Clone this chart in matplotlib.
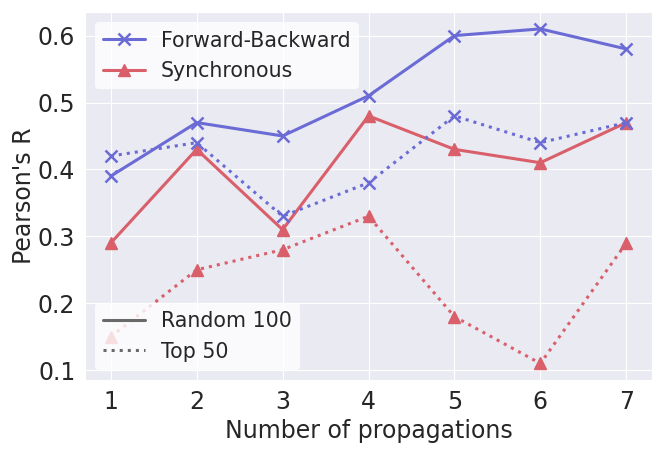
import matplotlib
matplotlib.use("Agg")
import matplotlib.pyplot as plt
import seaborn as sns
from matplotlib.lines import Line2D

props = [1, 2, 3, 4, 5, 6, 7]
fb_random = [0.39, 0.47, 0.45, 0.51, 0.60, 0.61, 0.58]
fb_top = [0.42, 0.44, 0.33, 0.38, 0.48, 0.44, 0.47]
sync_random = [0.29, 0.43, 0.31, 0.48, 0.43, 0.41, 0.47]
sync_top = [0.15, 0.25, 0.28, 0.33, 0.18, 0.11, 0.29]

sns.set_style("darkgrid")
plt.rcParams['font.family'] = ['DejaVu Sans']

blue = '#6b6bd6'
red = '#d95f6a'

fig, ax = plt.subplots(figsize=(6.64, 4.51), dpi=100)
lw = 2.2
ax.plot(props, fb_random, color=blue, marker='x', markersize=9, markeredgewidth=1.8, lw=lw, label='Forward-Backward')
ax.plot(props, sync_random, color=red, marker='^', markersize=9, lw=lw, label='Synchronous')
ax.plot(props, fb_top, color=blue, marker='x', markersize=9, markeredgewidth=1.8, lw=lw, ls=':')
ax.plot(props, sync_top, color=red, marker='^', markersize=9, lw=lw, ls=':')

ax.set_yticks([0.1, 0.2, 0.3, 0.4, 0.5, 0.6])
ax.set_xticks(props)
ax.tick_params(labelsize=17)
ax.set_xlabel('Number of propagations', fontsize=17)
ax.set_ylabel("Pearson's R", fontsize=17, labelpad=1.5)

leg1 = ax.legend(loc='upper left', fontsize=14.8, framealpha=0.8, edgecolor='none', facecolor='white')
ax.add_artist(leg1)
handles = [Line2D([], [], color='dimgray', lw=lw), Line2D([], [], color='dimgray', lw=lw, ls=':')]
ax.legend(handles, ['Random 100', 'Top 50'], loc='lower left', fontsize=14.8,
          framealpha=0.8, edgecolor='none', facecolor='white')

fig.subplots_adjust(left=0.128, right=0.982, top=0.973, bottom=0.157)
fig.savefig('out.png', dpi=100)
